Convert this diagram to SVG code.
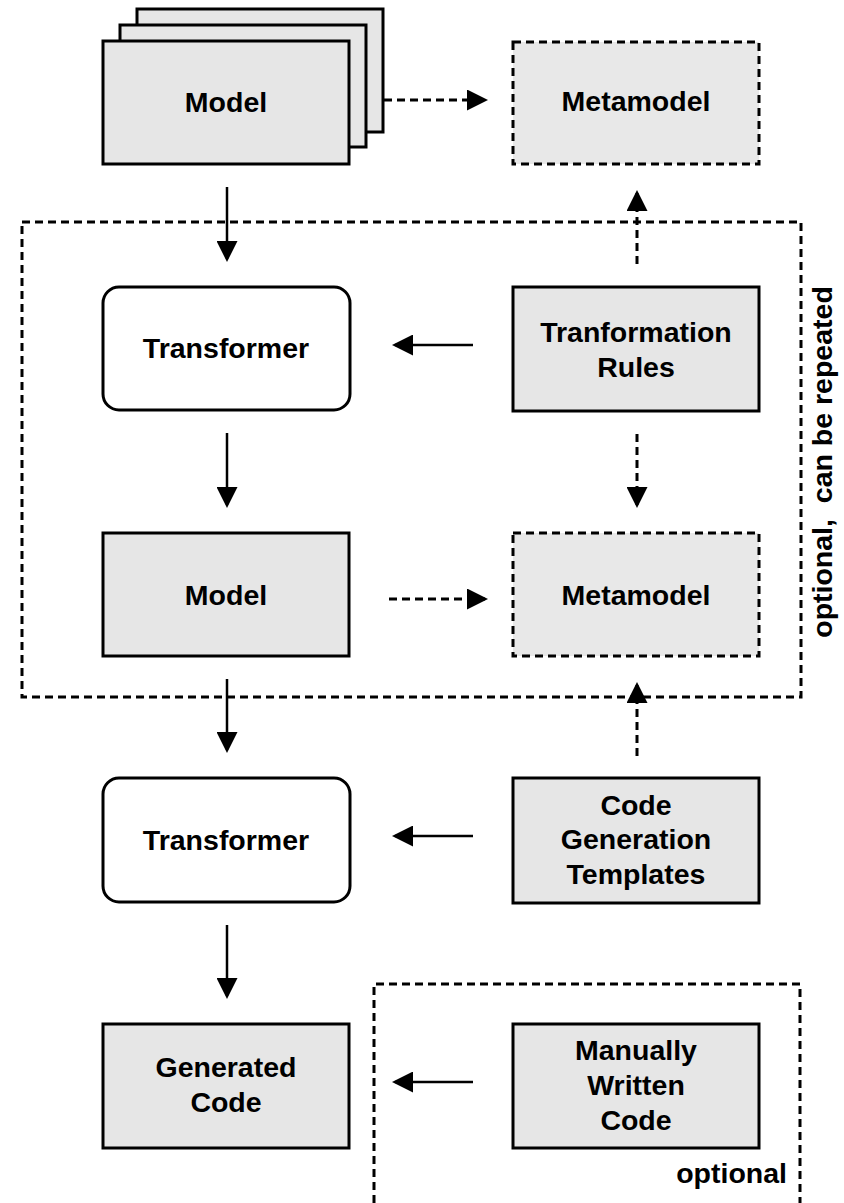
<svg xmlns="http://www.w3.org/2000/svg" width="844" height="1203" viewBox="0 0 844 1203">
<defs>
<style>
.box{fill:#e6e6e6;stroke:#000;stroke-width:3}
.dbox{fill:#e8e8e8;stroke:#000;stroke-width:3;stroke-dasharray:8 5}
.rbox{fill:#fff;stroke:#000;stroke-width:3}
.frame{fill:none;stroke:#000;stroke-width:3;stroke-dasharray:8 5}
.t{font-family:"Liberation Sans",Arial,sans-serif;font-weight:bold;font-size:28.5px;fill:#000;text-anchor:middle}
.a{stroke:#000;stroke-width:2.5;fill:none;marker-end:url(#ah)}
.da{stroke:#000;stroke-width:3;fill:none;stroke-dasharray:8 5;marker-end:url(#ah)}
</style>
<marker id="ah" markerUnits="userSpaceOnUse" markerWidth="21" markerHeight="21" refX="18" refY="10.5" orient="auto">
<path d="M0,0 L21,10.5 L0,21 z" fill="#000"/>
</marker>
</defs>
<rect width="844" height="1203" fill="#fff"/>

<g id="frame-repeat">
<rect class="frame" x="22" y="222" width="779" height="475"/>
<text class="t" transform="translate(832,462) rotate(-90)" xml:space="preserve">optional,  can be repeated</text>
</g>
<g id="frame-optional">
<polyline class="frame" points="374,1203 374,984 800,984 800,1203"/>
<text class="t" x="787" y="1183" style="text-anchor:end">optional</text>
</g>

<g id="model-top">
<rect class="box" x="137" y="9" width="246" height="123"/>
<rect class="box" x="120" y="25" width="246" height="122"/>
<rect class="box" x="103" y="41" width="246" height="123"/>
<text class="t" x="226" y="112">Model</text>
</g>
<g id="metamodel-top">
<rect class="dbox" x="513" y="42" width="246" height="122"/>
<text class="t" x="636" y="111">Metamodel</text>
</g>
<g id="transformer-1">
<rect class="rbox" x="103" y="287" width="247" height="123" rx="16"/>
<text class="t" x="226" y="358">Transformer</text>
</g>
<g id="transformation-rules">
<rect class="box" x="513" y="287" width="246" height="124"/>
<text class="t" x="636" y="342">Tranformation</text>
<text class="t" x="636" y="377">Rules</text>
</g>
<g id="model-2">
<rect class="box" x="103" y="533" width="246" height="123"/>
<text class="t" x="226" y="605">Model</text>
</g>
<g id="metamodel-2">
<rect class="dbox" x="513" y="533" width="246" height="123"/>
<text class="t" x="636" y="605">Metamodel</text>
</g>
<g id="transformer-2">
<rect class="rbox" x="103" y="778" width="247" height="124" rx="16"/>
<text class="t" x="226" y="850">Transformer</text>
</g>
<g id="code-gen-templates">
<rect class="box" x="513" y="778" width="246" height="125"/>
<text class="t" x="636" y="815">Code</text>
<text class="t" x="636" y="849">Generation</text>
<text class="t" x="636" y="884">Templates</text>
</g>
<g id="generated-code">
<rect class="box" x="103" y="1024" width="246" height="124"/>
<text class="t" x="226" y="1077">Generated</text>
<text class="t" x="226" y="1112">Code</text>
</g>
<g id="manual-code">
<rect class="box" x="513" y="1024" width="246" height="124"/>
<text class="t" x="636" y="1060">Manually</text>
<text class="t" x="636" y="1095">Written</text>
<text class="t" x="636" y="1130">Code</text>
</g>

<g id="connectors">
<line class="da" x1="384" y1="100" x2="485" y2="100"/>
<line class="a" x1="227" y1="187" x2="227" y2="259"/>
<line class="da" x1="637" y1="264" x2="637" y2="193"/>
<line class="a" x1="473" y1="345" x2="395" y2="345"/>
<line class="a" x1="227" y1="433" x2="227" y2="505"/>
<line class="da" x1="637" y1="434" x2="637" y2="505"/>
<line class="da" x1="389" y1="599" x2="485" y2="599"/>
<line class="a" x1="227" y1="679" x2="227" y2="750"/>
<line class="da" x1="637" y1="756" x2="637" y2="685"/>
<line class="a" x1="473" y1="836" x2="395" y2="836"/>
<line class="a" x1="227" y1="925" x2="227" y2="996"/>
<line class="a" x1="473" y1="1082" x2="395" y2="1082"/>
</g>
</svg>
